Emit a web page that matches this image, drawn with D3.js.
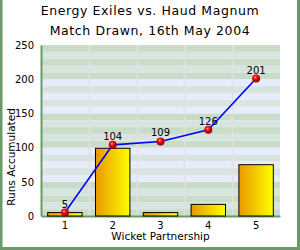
<!DOCTYPE html>
<html>
<head>
<meta charset="utf-8">
<script src="https://cdn.jsdelivr.net/npm/d3@7"></script>
<style>
  body { margin: 0; background: #fff; }
  svg { display: block; font-family: "DejaVu Sans", Verdana, sans-serif; }
</style>
</head>
<body>
<div id="chart"></div>
<script>
// Chart data
var titleLines = ['Energy Exiles vs. Haud Magnum', 'Match Drawn, 16th May 2004']
var wickets = ['1', '2', '3', '4', '5']
var partnershipRuns = [5, 99, 5, 17, 75]
var runsAccumulated = [5, 104, 109, 126, 201]
var yTicks = [0, 50, 100, 150, 200, 250]

// Layout variables
var width = 300
var height = 250
var plot = { left: 41, right: 280, top: 45, bottom: 216 }

var svg = d3.select('#chart').append('svg')
  .attr('width', width)
  .attr('height', height)

var defs = svg.append('defs')

// Orange to yellow fill for the bars
var barGrad = defs.append('linearGradient')
  .attr('id', 'barGrad')
  .attr('x1', '0%').attr('x2', '100%')
barGrad.append('stop').attr('offset', '0%').attr('stop-color', '#e89800')
barGrad.append('stop').attr('offset', '100%').attr('stop-color', '#ffff00')

// Shiny red ball for the markers
var ballGrad = defs.append('radialGradient')
  .attr('id', 'ballGrad')
  .attr('cx', '40%').attr('cy', '35%').attr('r', '65%')
ballGrad.append('stop').attr('offset', '0%').attr('stop-color', '#ff9a9a')
ballGrad.append('stop').attr('offset', '35%').attr('stop-color', '#ee1010')
ballGrad.append('stop').attr('offset', '100%').attr('stop-color', '#8a0000')

// Scales
var xScale = d3.scaleBand()
  .domain(wickets)
  .range([plot.left, plot.right])

var yScale = d3.scaleLinear()
  .domain([0, 250])
  .range([plot.bottom, plot.top])

// Background stripes, 10 runs each, in blocks of 50
var stripes = d3.range(0, 250, 10)
svg.append('g').selectAll('rect')
  .data(stripes)
  .enter().append('rect')
  .attr('x', plot.left)
  .attr('width', plot.right - plot.left)
  .attr('y', function (d) { return yScale(d + 10) })
  .attr('height', function (d) { return yScale(d) - yScale(d + 10) })
  .attr('fill', function (d) {
    var block = Math.floor(d / 50)
    var sub = (d % 50) / 10
    if (sub % 2 === 1) return '#d8e4e0'
    return block % 2 === 0 ? '#c8dcc8' : '#e6ecfc'
  })

// Vertical grid lines between categories
svg.append('g').selectAll('line')
  .data(wickets.slice(1))
  .enter().append('line')
  .attr('x1', function (d) { return Math.round(xScale(d)) + 0.5 })
  .attr('x2', function (d) { return Math.round(xScale(d)) + 0.5 })
  .attr('y1', plot.top)
  .attr('y2', plot.bottom)
  .attr('stroke', '#e4e0e0')
  .attr('stroke-width', 1.5)

// Axes
var yAxis = svg.append('g')
  .attr('transform', 'translate(' + plot.left + ',0)')
  .call(d3.axisLeft(yScale).tickValues(yTicks).tickSize(0).tickPadding(7))
yAxis.select('.domain').attr('stroke', '#6a9a6a').attr('stroke-width', 2)
yAxis.selectAll('text').attr('font-size', 10).attr('fill', '#000')
  .attr('font-family', '"DejaVu Sans", sans-serif')

var xAxis = svg.append('g')
  .attr('transform', 'translate(0,' + plot.bottom + ')')
  .call(d3.axisBottom(xScale).tickSize(0).tickPadding(6))
xAxis.select('.domain').attr('stroke', '#6a9a6a').attr('stroke-width', 2)
xAxis.selectAll('text').attr('font-size', 10).attr('fill', '#000')
  .attr('font-family', '"DejaVu Sans", sans-serif')

// Bars
var barWidth = xScale.bandwidth() * 0.72
svg.append('g').selectAll('rect')
  .data(partnershipRuns)
  .enter().append('rect')
  .attr('x', function (d, i) { return xScale(wickets[i]) + (xScale.bandwidth() - barWidth) / 2 })
  .attr('y', function (d) { return yScale(d) })
  .attr('width', barWidth)
  .attr('height', function (d) { return yScale(0) - yScale(d) })
  .attr('fill', 'url(#barGrad)')
  .attr('stroke', '#000')
  .attr('stroke-width', 1)

// Cumulative line
var line = d3.line()
  .x(function (d, i) { return xScale(wickets[i]) + xScale.bandwidth() / 2 })
  .y(function (d) { return yScale(d) })

svg.append('path')
  .datum(runsAccumulated)
  .attr('d', line)
  .attr('fill', 'none')
  .attr('stroke', '#0000ff')
  .attr('stroke-width', 1.6)

// Markers
svg.append('g').selectAll('circle')
  .data(runsAccumulated)
  .enter().append('circle')
  .attr('cx', function (d, i) { return xScale(wickets[i]) + xScale.bandwidth() / 2 })
  .attr('cy', function (d) { return yScale(d) })
  .attr('r', 4)
  .attr('fill', 'url(#ballGrad)')

// Value labels
svg.append('g').selectAll('text')
  .data(runsAccumulated)
  .enter().append('text')
  .attr('x', function (d, i) { return xScale(wickets[i]) + xScale.bandwidth() / 2 })
  .attr('y', function (d) { return yScale(d) - 5 })
  .attr('text-anchor', 'middle')
  .attr('font-size', 10)
  .text(function (d) { return d })

// Titles
svg.append('g').selectAll('text')
  .data(titleLines)
  .enter().append('text')
  .attr('x', width / 2)
  .attr('y', function (d, i) { return 15 + i * 20 })
  .attr('text-anchor', 'middle')
  .attr('font-size', 12.5)
  .attr('letter-spacing', 0.6)
  .text(function (d) { return d })

svg.append('text')
  .attr('x', (plot.left + plot.right) / 2)
  .attr('y', 240)
  .attr('text-anchor', 'middle')
  .attr('font-size', 10.5)
  .text('Wicket Partnership')

svg.append('text')
  .attr('transform', 'translate(15,157) rotate(-90)')
  .attr('text-anchor', 'middle')
  .attr('font-size', 10.5)
  .text('Runs Accumulated')

// Frame (left, right, bottom)
svg.append('path')
  .attr('d', 'M1,0 V248.5 H298.5 V0')
  .attr('fill', 'none')
  .attr('stroke', '#6a9a6a')
  .attr('stroke-width', 3)
</script>
</body>
</html>
